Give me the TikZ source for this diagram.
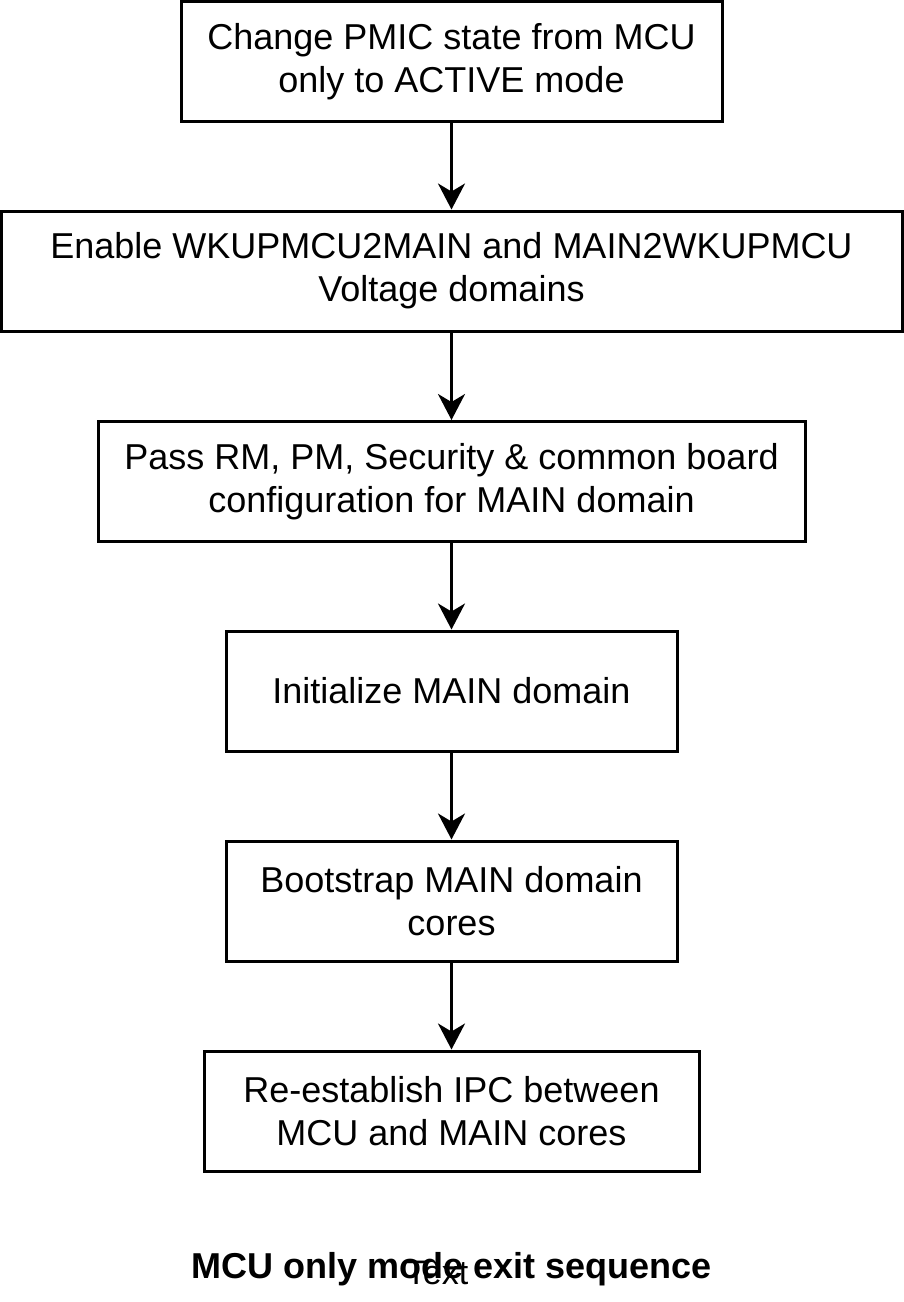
\documentclass[tikz,border=0pt]{standalone}
\usepackage{fontspec}
\setmainfont{Liberation Sans}
\usetikzlibrary{arrows.meta}

\begin{document}
\begin{tikzpicture}[x=1pt,y=-1pt,
        block/.style={rectangle,draw,line width=3pt,minimum height=120pt,inner sep=0pt,
            align=center,font=\fontsize{36}{43}\selectfont},
        flow/.style={line width=3pt,-{Stealth[length=26pt,width=27pt,inset=8pt]}}]

    \useasboundingbox (0,0) rectangle (903,1302);

    % Steps
    \node[block,minimum width=541pt] (pmic) at (451.5,61.5)
        {Change PMIC state from MCU\\only to ACTIVE mode};
    \node[block,minimum width=901pt] (volt) at (451.5,271)
        {Enable WKUPMCU2MAIN and MAIN2WKUPMCU\\Voltage domains};
    \node[block,minimum width=707pt] (cfg) at (451.5,481.5)
        {Pass RM, PM, Security \& common board\\configuration for MAIN domain};
    \node[block,minimum width=451pt] (init) at (451.5,691)
        {Initialize MAIN domain};
    \node[block,minimum width=451pt] (boot) at (451.5,901)
        {Bootstrap MAIN domain\\cores};
    \node[block,minimum width=495pt] (ipc) at (451.5,1111)
        {Re-establish IPC between\\MCU and MAIN cores};

    % Caption
    \node[font=\fontsize{36}{43}\selectfont\bfseries] (title) at (451.5,1269)
        {MCU only mode exit sequence};
    \node[font=\fontsize{34}{40}\selectfont] (txt) at (437,1273) {Text};

    % Edges
    \draw[flow] (pmic) -- (volt);
    \draw[flow] (volt) -- (cfg);
    \draw[flow] (cfg) -- (init);
    \draw[flow] (init) -- (boot);
    \draw[flow] (boot) -- (ipc);
\end{tikzpicture}
\end{document}
